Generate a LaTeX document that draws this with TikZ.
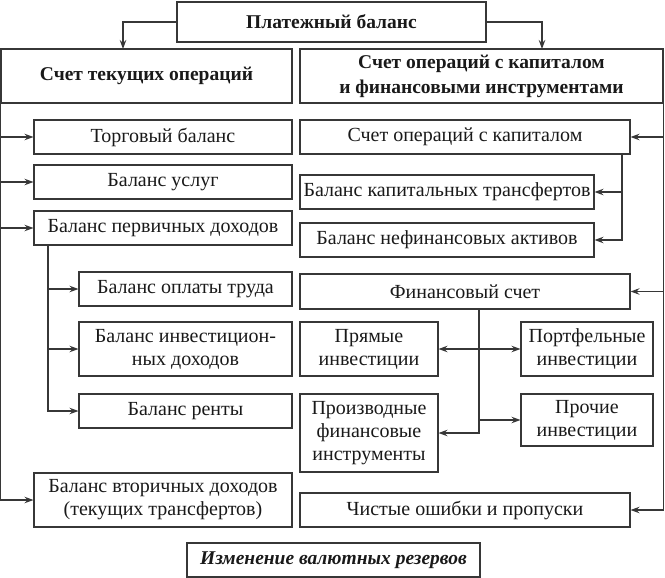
\documentclass[tikz,border=0pt]{standalone}
\usepackage{fontspec}
\setmainfont{Liberation Serif}
\usetikzlibrary{arrows.meta}
\begin{document}
\begin{tikzpicture}[x=1pt,y=-1pt,
  box/.style={draw=linec, line width=1.1pt, rectangle, inner sep=0pt, align=center,
    text=black!90, font=\fontsize{20}{23}\selectfont},
  hbox/.style={box, font=\bfseries\fontsize{19.5}{25}\selectfont},
  conn/.style={draw=linec, line width=1.1pt},
  arr/.style={conn, -{Stealth[length=9pt,width=6.5pt,inset=3pt]}},
  darr/.style={conn, {Stealth[length=9pt,width=6.5pt,inset=3pt]}-{Stealth[length=9pt,width=6.5pt,inset=3pt]}}
]
\definecolor{linec}{RGB}{55,55,55}
\useasboundingbox (0,0) rectangle (665,578);
% header boxes
\node[hbox, minimum width=309pt, minimum height=40pt] (top) at (331.5,22) {Платежный баланс};
\node[hbox, minimum width=291pt, minimum height=54pt] (cur) at (146.5,76) {Счет текущих операций};
\node[hbox, minimum width=363pt, minimum height=54pt] (cap) at (481.5,76) {Счет операций с капиталом\\и финансовыми инструментами};
% left column
\node[box, minimum width=258pt, minimum height=34pt] (trade) at (163,137) {Торговый баланс};
\node[box, minimum width=258pt, minimum height=34pt] (serv) at (163,182) {Баланс услуг};
\node[box, minimum width=258pt, minimum height=34pt] (prim) at (163,228) {Баланс первичных доходов};
\node[box, minimum width=213pt, minimum height=34pt] (labor) at (185.5,289) {Баланс оплаты труда};
\node[box, minimum width=213pt, minimum height=54pt] (invinc) at (185.5,349) {Баланс инвестицион-\\ных доходов};
\node[box, minimum width=213pt, minimum height=34pt] (rent) at (185.5,411) {Баланс ренты};
\node[box, minimum width=258pt, minimum height=54pt] (sec) at (163,500) {Баланс вторичных доходов\\(текущих трансфертов)};
% right column
\node[box, minimum width=330pt, minimum height=34pt] (capop) at (465,137) {Счет операций с капиталом};
\node[box, minimum width=294pt, minimum height=34pt] (captr) at (447,192) {Баланс капитальных трансфертов};
\node[box, minimum width=294pt, minimum height=34pt] (nonfin) at (447,240) {Баланс нефинансовых активов};
\node[box, minimum width=330pt, minimum height=35pt] (fin) at (465,291.5) {Финансовый счет};
\node[box, minimum width=138pt, minimum height=54pt] (direct) at (369,349) {Прямые\\инвестиции};
\node[box, minimum width=132pt, minimum height=54pt] (portf) at (587,349) {Портфельные\\инвестиции};
\node[box, minimum width=138pt, minimum height=78pt] (deriv) at (369,433) {Производные\\финансовые\\инструменты};
\node[box, minimum width=132pt, minimum height=52pt] (other) at (587,420) {Прочие\\инвестиции};
\node[box, minimum width=330pt, minimum height=34pt] (err) at (465,510) {Чистые ошибки и пропуски};
\node[box, minimum width=293pt, minimum height=34pt, font=\bfseries\itshape\fontsize{19.5}{23}\selectfont] (res) at (333.5,560) {Изменение валютных резервов};
% connectors from top
\coordinate (tl) at (123,49);
\coordinate (tr) at (542,49);
\draw[arr] (top.west) -| (tl);
\draw[arr] (top.east) -| (tr);
% left spine
\draw[conn] (cur.south west) -- (cur.south west |- sec.west);
\draw[arr] (cur.south west |- sec.west) -- (sec.west);
\draw[arr] (cur.south west |- trade.west) -- (trade.west);
\draw[arr] (cur.south west |- serv.west) -- (serv.west);
\draw[arr] (cur.south west |- prim.west) -- (prim.west);
% primary income sub-spine
\coordinate (ps) at (48,245);
\draw[arr] (ps) |- (rent.west);
\draw[arr] (ps |- labor.west) -- (labor.west);
\draw[arr] (ps |- invinc.west) -- (invinc.west);
% right spine
\draw[conn] (cap.south east) -- (cap.south east |- err.east);
\draw[arr] (cap.south east |- err.east) -- (err.east);
\draw[arr] (cap.south east |- capop.east) -- (capop.east);
\draw[arr] (cap.south east |- fin.east) -- (fin.east);
% capital sub-spine
\coordinate (cs) at (622,154);
\draw[arr] (cs) |- (nonfin.east);
\draw[arr] (cs |- captr.east) -- (captr.east);
% financial sub-spine
\coordinate (fs) at (479,309);
\draw[arr] (fs) |- (deriv.east);
\draw[arr] (fs |- other.west) -- (other.west);
\draw[darr] (direct.east) -- (portf.west);
\end{tikzpicture}
\end{document}
